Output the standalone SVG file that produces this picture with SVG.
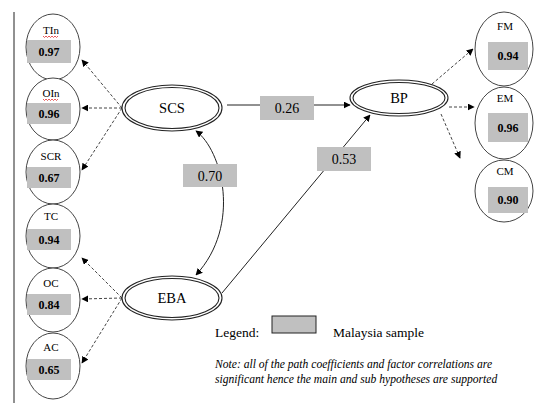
<svg xmlns="http://www.w3.org/2000/svg" width="537" height="403" viewBox="0 0 537 403">
<defs>
<marker id="ah" viewBox="0 0 10 10" refX="9" refY="5" markerWidth="7" markerHeight="7" orient="auto-start-reverse" markerUnits="userSpaceOnUse">
<path d="M0,0 L10,5 L0,10 z" fill="#000"/>
</marker>
<style>
text{font-family:"Times New Roman","Liberation Serif","DejaVu Serif",serif;fill:#000}
.ind{fill:#fff;stroke:#444;stroke-width:1}
.box{fill:#c0c0c0;stroke:none}
.lbl{font-size:11px;text-anchor:middle}
.val{font-size:12px;font-weight:bold;text-anchor:middle}
.lat{fill:#fff;stroke:#222;stroke-width:1.1}
.latt{font-size:14.5px;text-anchor:middle}
.coef{font-size:14px;text-anchor:middle}
.leg{font-size:13.5px}
.note{font-size:11.6px;font-style:italic}
.solid{fill:none;stroke:#222;stroke-width:1}
.dash{fill:none;stroke:#444;stroke-width:1;stroke-dasharray:3 2}
.squig{fill:none;stroke:#e03030;stroke-width:0.8}
</style>
</defs>
<rect width="537" height="403" fill="#fff"/>
<line x1="14" y1="12" x2="14" y2="403" stroke="#222" stroke-width="1"/>

<g id="connectors">
<line class="dash" x1="122" y1="108" x2="82" y2="60" marker-end="url(#ah)"/>
<line class="dash" x1="122" y1="108" x2="82" y2="108" marker-end="url(#ah)"/>
<line class="dash" x1="122" y1="108" x2="82" y2="170" marker-end="url(#ah)"/>
<line class="dash" x1="122" y1="298" x2="82" y2="258" marker-end="url(#ah)"/>
<line class="dash" x1="122" y1="298" x2="82" y2="299" marker-end="url(#ah)"/>
<line class="dash" x1="122" y1="298" x2="82" y2="363" marker-end="url(#ah)"/>
<line class="dash" x1="432" y1="84" x2="473" y2="49" marker-end="url(#ah)"/>
<line class="dash" x1="449" y1="107" x2="474" y2="107" marker-end="url(#ah)"/>
<line class="dash" x1="441" y1="114" x2="460" y2="158" marker-end="url(#ah)"/>
<line class="solid" x1="227" y1="105" x2="350" y2="105" marker-end="url(#ah)"/>
<line class="solid" x1="222" y1="293" x2="370" y2="115" marker-end="url(#ah)"/>
<path class="solid" d="M196,131 C222,150 242,225 196,275" marker-start="url(#ah)" marker-end="url(#ah)"/>
</g>

<g id="TIn">
<ellipse class="ind" cx="53" cy="47" rx="27" ry="33"/>
<text class="lbl" x="51" y="34">TIn</text>
<path class="squig" d="M43,36 l1.5,1.5 l1.5,-1.5 l1.5,1.5 l1.5,-1.5 l1.5,1.5 l1.5,-1.5 l1.5,1.5 l1.5,-1.5 l1.5,1.5 l1.5,-1.5"/>
<rect class="box" x="27" y="40" width="44" height="23"/>
<text class="val" x="49" y="56">0.97</text>
</g>
<g id="OIn">
<ellipse class="ind" cx="53" cy="109" rx="27" ry="31"/>
<text class="lbl" x="51" y="97">OIn</text>
<path class="squig" d="M43,99 l1.5,1.5 l1.5,-1.5 l1.5,1.5 l1.5,-1.5 l1.5,1.5 l1.5,-1.5 l1.5,1.5 l1.5,-1.5 l1.5,1.5 l1.5,-1.5"/>
<rect class="box" x="27" y="103" width="44" height="21"/>
<text class="val" x="49" y="118">0.96</text>
</g>
<g id="SCR">
<ellipse class="ind" cx="53" cy="172" rx="27" ry="32"/>
<text class="lbl" x="51" y="160">SCR</text>
<rect class="box" x="27" y="167" width="44" height="21"/>
<text class="val" x="49" y="182">0.67</text>
</g>
<g id="TC">
<ellipse class="ind" cx="53" cy="236" rx="27" ry="32"/>
<text class="lbl" x="51" y="220">TC</text>
<rect class="box" x="27" y="229" width="44" height="21"/>
<text class="val" x="49" y="244">0.94</text>
</g>
<g id="OC">
<ellipse class="ind" cx="53" cy="300" rx="27" ry="32"/>
<text class="lbl" x="51" y="287">OC</text>
<rect class="box" x="27" y="294" width="44" height="21"/>
<text class="val" x="49" y="309">0.84</text>
</g>
<g id="AC">
<ellipse class="ind" cx="53" cy="366" rx="27" ry="33"/>
<text class="lbl" x="51" y="351">AC</text>
<rect class="box" x="27" y="359" width="44" height="21"/>
<text class="val" x="49" y="374">0.65</text>
</g>

<g id="FM">
<ellipse class="ind" cx="504" cy="49" rx="29" ry="37"/>
<text class="lbl" x="505" y="30">FM</text>
<rect class="box" x="488" y="42" width="40" height="28"/>
<text class="val" x="508" y="60">0.94</text>
</g>
<g id="EM">
<ellipse class="ind" cx="504" cy="123" rx="29" ry="36"/>
<text class="lbl" x="505" y="102">EM</text>
<rect class="box" x="488" y="113" width="40" height="29"/>
<text class="val" x="508" y="132">0.96</text>
</g>
<g id="CM">
<ellipse class="ind" cx="504" cy="191" rx="29" ry="31"/>
<text class="lbl" x="505" y="175">CM</text>
<rect class="box" x="488" y="187" width="40" height="26"/>
<text class="val" x="508" y="204">0.90</text>
</g>

<g id="SCS">
<ellipse class="lat" cx="172" cy="108" rx="50" ry="23"/>
<ellipse class="lat" cx="172" cy="108" rx="47" ry="20.5"/>
<text class="latt" x="172" y="113">SCS</text>
</g>
<g id="EBA">
<ellipse class="lat" cx="172" cy="298" rx="50" ry="22"/>
<ellipse class="lat" cx="172" cy="298" rx="47" ry="19.5"/>
<text class="latt" x="172" y="303">EBA</text>
</g>
<g id="BP">
<ellipse class="lat" cx="399" cy="98" rx="49" ry="18"/>
<ellipse class="lat" cx="399" cy="98" rx="46" ry="15.5"/>
<text class="latt" x="399" y="103">BP</text>
</g>

<g id="c026">
<rect class="box" x="260" y="96" width="54" height="24"/>
<text class="coef" x="287" y="113">0.26</text>
</g>
<g id="c070">
<rect class="box" x="183" y="164" width="54" height="23"/>
<text class="coef" x="210" y="181">0.70</text>
</g>
<g id="c053">
<rect class="box" x="317" y="147" width="54" height="24"/>
<text class="coef" x="344" y="164">0.53</text>
</g>

<g id="legend">
<text class="leg" x="215" y="337">Legend:</text>
<rect x="272" y="316" width="44" height="17" fill="#c0c0c0" stroke="#222" stroke-width="1"/>
<text class="leg" x="333" y="337">Malaysia sample</text>
<text class="note" x="215" y="368">Note: all of the path coefficients and factor correlations are</text>
<text class="note" x="215" y="383">significant hence the main and sub hypotheses are supported</text>
</g>
</svg>
